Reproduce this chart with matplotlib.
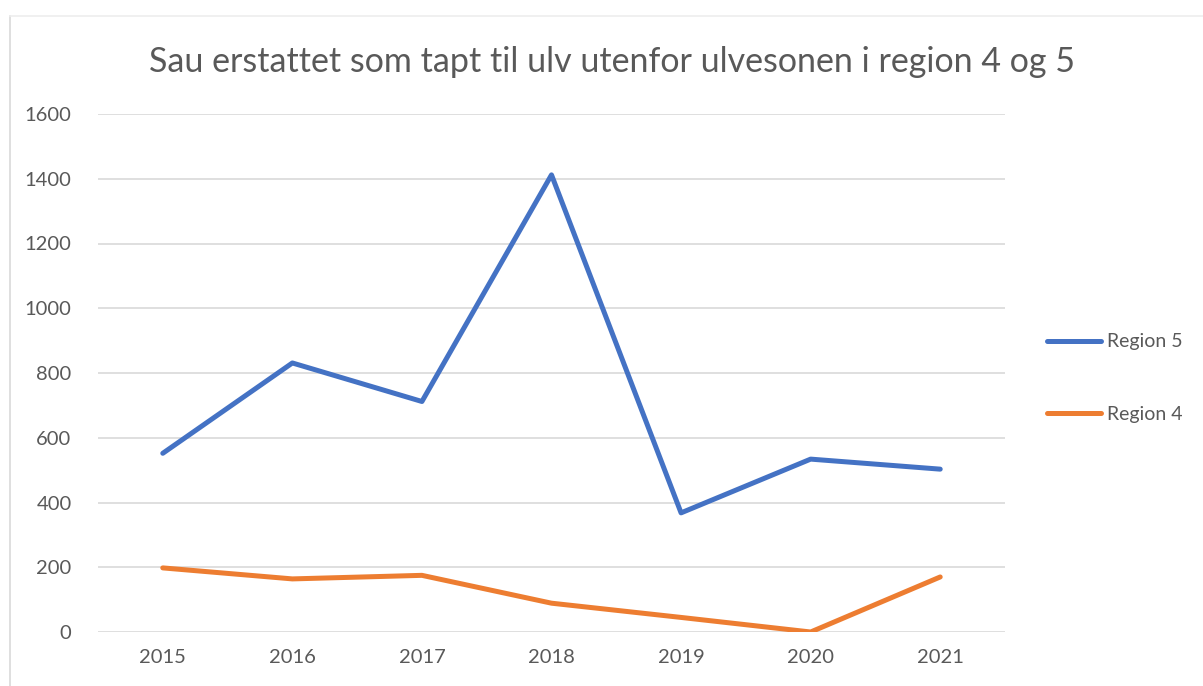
import matplotlib.pyplot as plt
from matplotlib.lines import Line2D

# data
years = ['2015', '2016', '2017', '2018', '2019', '2020', '2021']
region5 = [552, 831, 712, 1412, 368, 534, 503]
region4 = [198, 164, 175, 89, 45, 0, 170]

plt.rcParams['font.family'] = ['Lato', 'DejaVu Sans']

fig = plt.figure(figsize=(12.03, 6.86), dpi=100)
ax = fig.add_axes([98 / 1203, 54 / 686, (1005 - 98) / 1203, (632 - 114) / 686])

x = list(range(len(years)))
ax.plot(x, region5, color='#4472C4', lw=3.6, solid_capstyle='round', solid_joinstyle='round', label='Region 5')
ax.plot(x, region4, color='#ED7D31', lw=3.6, solid_capstyle='round', solid_joinstyle='round', label='Region 4')

ax.set_xlim(-0.5, len(years) - 0.5)
ax.set_ylim(0, 1600)
ax.set_yticks(range(0, 1601, 200))
ax.set_xticks(x)
ax.set_xticklabels(years)
ax.grid(axis='y', color='#D9D9D9', lw=1.2)
ax.set_axisbelow(True)
for s in ax.spines.values():
    s.set_visible(False)
ax.tick_params(length=0, labelsize=14.5, labelcolor='#595959')
ax.tick_params(axis='y', pad=19)
ax.tick_params(axis='x', pad=12)

fig.text(612 / 1203, 1 - 62 / 686, 'Sau erstattet som tapt til ulv utenfor ulvesonen i region 4 og 5',
         ha='center', va='center', fontsize=24.5, color='#595959')

ax.legend(loc='center left', bbox_to_anchor=((1047 - 98) / 907, 0.49), frameon=False,
          borderaxespad=0, borderpad=0,
          fontsize=14, labelcolor='#595959', handlelength=2.8, handletextpad=0.3,
          labelspacing=2.85)

# chart border
fig.add_artist(Line2D([10 / 1203, 10 / 1203], [0, 1 - 16 / 686], color='#D9D9D9', lw=1.2))
fig.add_artist(Line2D([10 / 1203, 1], [1 - 16 / 686, 1 - 16 / 686], color='#EDEDED', lw=1.2))

fig.savefig('out.png', dpi=100)
